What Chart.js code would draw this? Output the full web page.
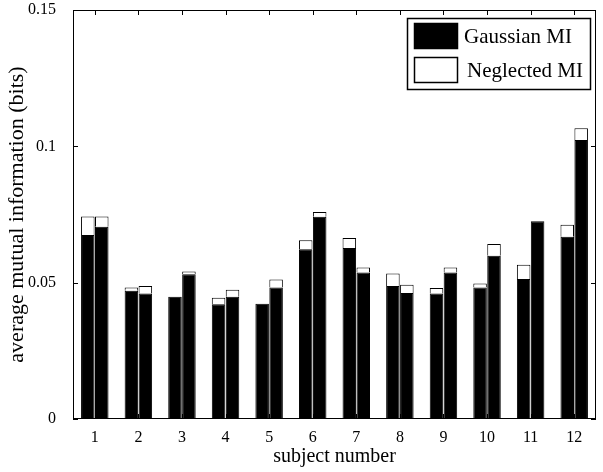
<!DOCTYPE html>
<html>
<head>
<meta charset="utf-8">
<script src="https://cdn.jsdelivr.net/npm/chart.js@4/dist/chart.umd.min.js"></script>
<style>
  html, body { margin: 0; padding: 0; background: #fff; }
  #wrap { width: 603px; height: 472px; }
</style>
</head>
<body>
<div id="wrap"><canvas id="chart" width="603" height="472"></canvas></div>
<script>
const subjects = ['1', '2', '3', '4', '5', '6', '7', '8', '9', '10', '11', '12'];

// left bar of each pair
const gaussianA  = [0.0675, 0.047, 0.0448, 0.0421, 0.0423, 0.0623, 0.0627, 0.0488, 0.046, 0.0482, 0.0513, 0.0668];
const neglectedA = [0.0068, 0.0012, 0.0, 0.0024, 0.0, 0.0033, 0.0037, 0.0046, 0.002, 0.0015, 0.0053, 0.0044];
// right bar of each pair
const gaussianB  = [0.0705, 0.046, 0.0531, 0.0448, 0.0482, 0.0742, 0.0537, 0.0462, 0.0537, 0.0599, 0.0725, 0.1023];
const neglectedB = [0.0038, 0.0028, 0.001, 0.0026, 0.003, 0.0017, 0.0019, 0.003, 0.0019, 0.0043, 0.0, 0.0043];

const yTicks = [0, 0.05, 0.1, 0.15];
const serif = "'Liberation Serif', 'DejaVu Serif', serif";

const frame = {
  id: 'frame',
  afterDraw(chart) {
    const { ctx, chartArea: a, scales } = chart;
    ctx.save();
    ctx.strokeStyle = '#000';
    ctx.lineWidth = 1;
    ctx.strokeRect(a.left + 0.5, a.top + 0.5, a.right - a.left - 1, a.bottom - a.top - 1);
    // inward ticks
    const tl = 5;
    ctx.beginPath();
    subjects.forEach((s, i) => {
      const x = Math.round(scales.x.getPixelForValue(i)) + 0.5;
      ctx.moveTo(x, a.bottom); ctx.lineTo(x, a.bottom - tl);
      ctx.moveTo(x, a.top); ctx.lineTo(x, a.top + tl);
    });
    yTicks.forEach(v => {
      const y = Math.round(scales.y.getPixelForValue(v)) + 0.5;
      ctx.moveTo(a.left, y); ctx.lineTo(a.left + tl, y);
      ctx.moveTo(a.right, y); ctx.lineTo(a.right - tl, y);
    });
    ctx.stroke();

    // legend box in the top right corner
    const w = 183, h = 71;
    const lx = a.right - 6 - w, ly = a.top + 8;
    ctx.fillStyle = '#fff';
    ctx.fillRect(lx, ly, w, h);
    ctx.lineWidth = 1.5;
    ctx.strokeRect(lx + 0.5, ly + 0.5, w, h);
    const items = [chart.data.datasets[0], chart.data.datasets[1]];
    ctx.font = '21px ' + serif;
    ctx.textBaseline = 'middle';
    items.forEach((ds, i) => {
      const sy = ly + 5 + i * 34;
      ctx.fillStyle = ds.backgroundColor;
      ctx.fillRect(lx + 7, sy, 44, 26);
      ctx.strokeRect(lx + 7.5, sy + 0.5, 43, 25);
      ctx.fillStyle = '#000';
      ctx.fillText(ds.label, lx + 57 + i * 3, sy + 14);
    });
    ctx.restore();
  }
};

new Chart(document.getElementById('chart'), {
  type: 'bar',
  data: {
    labels: subjects,
    datasets: [
      { label: 'Gaussian MI', data: gaussianA, stack: 'a', backgroundColor: '#000', borderColor: '#000', borderWidth: 1 },
      { label: 'Neglected MI', data: neglectedA, stack: 'a', backgroundColor: '#fff', borderColor: '#000', borderWidth: 1 },
      { label: 'Gaussian MI', data: gaussianB, stack: 'b', backgroundColor: '#000', borderColor: '#000', borderWidth: 1 },
      { label: 'Neglected MI', data: neglectedB, stack: 'b', backgroundColor: '#fff', borderColor: '#000', borderWidth: 1 }
    ]
  },
  options: {
    responsive: false,
    animation: false,
    categoryPercentage: 0.64,
    barPercentage: 0.97,
    layout: { padding: { top: 10, right: 7, left: 0, bottom: 0 } },
    plugins: {
      legend: { display: false },
      tooltip: { enabled: false }
    },
    scales: {
      x: {
        stacked: true,
        offset: true,
        grid: { display: false },
        border: { display: false },
        ticks: { color: '#000', font: { family: serif, size: 16 }, padding: 1, maxRotation: 0 },
        title: { display: true, text: 'subject number', color: '#000', font: { family: serif, size: 20 }, padding: { top: 0, bottom: 3 } },
        afterFit(scale) { scale.height = 53; scale.paddingLeft = 0; scale.paddingRight = 0; }
      },
      y: {
        stacked: true,
        min: 0,
        max: 0.15,
        grid: { display: false },
        border: { display: false },
        afterBuildTicks(scale) { scale.ticks = yTicks.map(v => ({ value: v })); },
        ticks: { color: '#000', font: { family: serif, size: 16 }, padding: 9, callback: v => String(v) },
        title: { display: true, text: 'average mutual information (bits)', color: '#000', font: { family: serif, size: 22 }, padding: { top: 4, bottom: 0 } },
        afterFit(scale) { scale.width = 73; scale.paddingTop = 0; scale.paddingBottom = 0; }
      }
    }
  },
  plugins: [frame]
});
</script>
</body>
</html>
